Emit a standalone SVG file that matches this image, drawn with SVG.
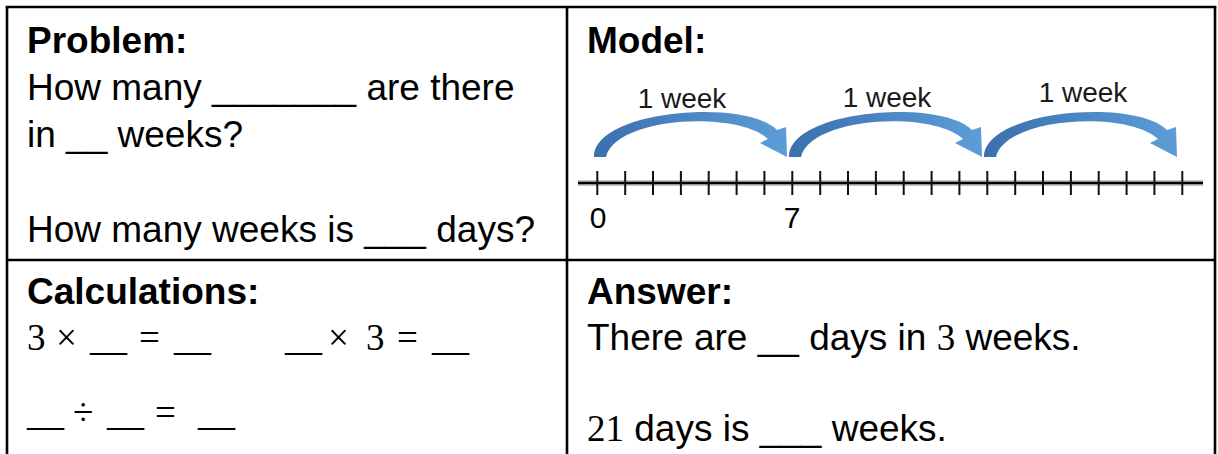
<svg xmlns="http://www.w3.org/2000/svg" width="1218" height="454" viewBox="0 0 1218 454">
  <defs>
    <style>
      .grid { stroke: #000; stroke-width: 2.6; fill: none; }
      .h { font-family: "Liberation Sans", Arial, sans-serif; font-weight: bold; font-size: 37px; fill: #000; }
      .t { font-family: "Liberation Sans", Arial, sans-serif; font-size: 37px; fill: #000; }
      .m { font-family: "Liberation Serif", "Times New Roman", serif; font-size: 37px; fill: #000; }
      .lab { font-family: "Liberation Sans", Arial, sans-serif; font-size: 28px; fill: #1a1a1a; }
      .num { font-family: "Liberation Sans", Arial, sans-serif; font-size: 30px; fill: #000; text-anchor: middle; }
      .tick { stroke: #111; stroke-width: 2; }
      .jump { fill: url(#blue); }
    </style>
    <linearGradient id="blue" x1="0" y1="0" x2="1" y2="0">
      <stop offset="0" stop-color="#3a70ae"/>
      <stop offset="1" stop-color="#5c9dd8"/>
    </linearGradient>
    <path id="arc" d="M -3,157 C -3,110 148,98 180,130 L 189,127 L 190,157 L 163,143 L 171,139 C 140,110 18,117 9,157 Z"/>
  </defs>

  <rect x="0" y="0" width="1218" height="454" fill="#fff"/>

  <g id="table">
    <line class="grid" x1="5.7" y1="7" x2="1216.3" y2="7"/>
    <line class="grid" x1="7" y1="7" x2="7" y2="454"/>
    <line class="grid" x1="1215" y1="7" x2="1215" y2="454"/>
    <line class="grid" x1="567" y1="7" x2="567" y2="454"/>
    <line class="grid" x1="7" y1="260" x2="1215" y2="260"/>
  </g>

  <g id="cell-problem">
    <text class="h" x="27" y="53">Problem:</text>
    <text class="t" x="27" y="100">How many _______ are there</text>
    <text class="t" x="27" y="147">in __ weeks?</text>
    <text class="t" x="27" y="242">How many weeks is ___ days?</text>
  </g>

  <g id="cell-model">
    <text class="h" x="587" y="53">Model:</text>
    <g id="number-line">
      <line x1="578" y1="183" x2="1203" y2="183" stroke="#a0a0a0" stroke-width="6" stroke-opacity="0.6"/>
      <line x1="578" y1="183" x2="1203" y2="183" stroke="#000" stroke-width="2.6"/>
      <g id="ticks">
        <line class="tick" x1="597.3" y1="171" x2="597.3" y2="195"/>
        <line class="tick" x1="625.2" y1="171" x2="625.2" y2="195"/>
        <line class="tick" x1="653.0" y1="171" x2="653.0" y2="195"/>
        <line class="tick" x1="680.9" y1="171" x2="680.9" y2="195"/>
        <line class="tick" x1="708.7" y1="171" x2="708.7" y2="195"/>
        <line class="tick" x1="736.6" y1="171" x2="736.6" y2="195"/>
        <line class="tick" x1="764.4" y1="171" x2="764.4" y2="195"/>
        <line class="tick" x1="792.3" y1="171" x2="792.3" y2="195"/>
        <line class="tick" x1="820.2" y1="171" x2="820.2" y2="195"/>
        <line class="tick" x1="848.0" y1="171" x2="848.0" y2="195"/>
        <line class="tick" x1="875.9" y1="171" x2="875.9" y2="195"/>
        <line class="tick" x1="903.7" y1="171" x2="903.7" y2="195"/>
        <line class="tick" x1="931.6" y1="171" x2="931.6" y2="195"/>
        <line class="tick" x1="959.4" y1="171" x2="959.4" y2="195"/>
        <line class="tick" x1="987.3" y1="171" x2="987.3" y2="195"/>
        <line class="tick" x1="1015.2" y1="171" x2="1015.2" y2="195"/>
        <line class="tick" x1="1043.0" y1="171" x2="1043.0" y2="195"/>
        <line class="tick" x1="1070.9" y1="171" x2="1070.9" y2="195"/>
        <line class="tick" x1="1098.7" y1="171" x2="1098.7" y2="195"/>
        <line class="tick" x1="1126.6" y1="171" x2="1126.6" y2="195"/>
        <line class="tick" x1="1154.4" y1="171" x2="1154.4" y2="195"/>
        <line class="tick" x1="1182.3" y1="171" x2="1182.3" y2="195"/>
      </g>
      <text class="num" x="598" y="228">0</text>
      <text class="num" x="792" y="228">7</text>
    </g>
    <text class="lab" x="682" y="108" text-anchor="middle">1 week</text>
    <text class="lab" x="887" y="106.5" text-anchor="middle">1 week</text>
    <text class="lab" x="1083" y="101.5" text-anchor="middle">1 week</text>
  </g>

  <g id="connectors">
    <use href="#arc" class="jump" transform="translate(597,0)"/>
    <use href="#arc" class="jump" transform="translate(792,0)"/>
    <use href="#arc" class="jump" transform="translate(987,0)"/>
  </g>

  <g id="cell-calculations">
    <text class="h" x="27" y="304">Calculations:</text>
    <text class="m" y="350"><tspan x="27">3</tspan><tspan x="56">×</tspan><tspan x="90">__</tspan><tspan x="139">=</tspan><tspan x="174">__</tspan><tspan x="285">__</tspan><tspan x="328">×</tspan><tspan x="366">3</tspan><tspan x="397">=</tspan><tspan x="432">__</tspan></text>
    <text class="m" y="425"><tspan x="27">__</tspan><tspan x="73">÷</tspan><tspan x="107">__</tspan><tspan x="155">=</tspan><tspan x="198">__</tspan></text>
  </g>

  <g id="cell-answer">
    <text class="h" x="587" y="304">Answer:</text>
    <text class="t" x="587" y="350">There are __ days in <tspan class="m">3</tspan> weeks.</text>
    <text class="t" x="587" y="441"><tspan class="m">21</tspan> days is ___ weeks.</text>
  </g>
</svg>
